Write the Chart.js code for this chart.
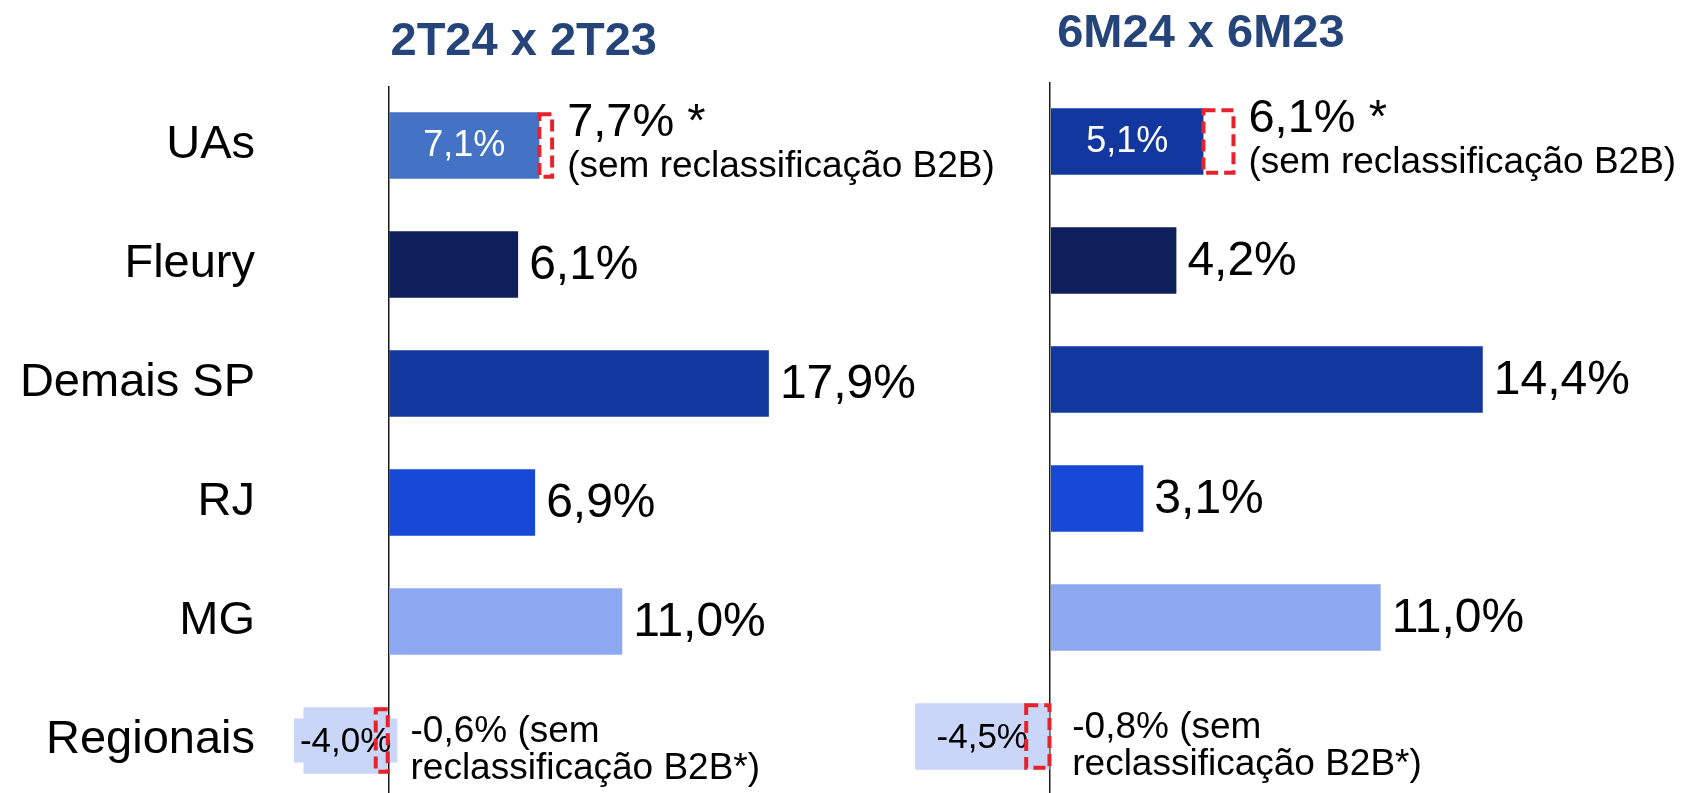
<!DOCTYPE html>
<html lang="pt-BR">
<head>
<meta charset="utf-8">
<title>Crescimento por marca</title>
<script src="https://cdn.jsdelivr.net/npm/chart.js@4.4.1/dist/chart.umd.min.js"></script>
<style>
    html, body {
        margin: 0;
        padding: 0;
        background: #ffffff;
        overflow: hidden;
        width: 1684px;
        height: 793px;
    }
    canvas {
        position: absolute;
        top: 0;
    }
    #quarter-chart { left: 0; }
    #half-chart { left: 850px; }
</style>
</head>
<body>
<canvas id="quarter-chart" width="1010" height="800"></canvas>
<canvas id="half-chart" width="834" height="800"></canvas>
<script>
// Chart data
const categories = ['UAs', 'Fleury', 'Demais SP', 'RJ', 'MG', 'Regionais'];

const quarterTitle = '2T24 x 2T23';
const quarterGrowth = [7.1, 6.1, 17.9, 6.9, 11.0, -4.0];
const quarterNoB2B = [7.7, null, null, null, null, -0.6];
const quarterColors = ['#4472C4', '#0F1F5B', '#12379F', '#1749D6', '#8CA8F0', '#C9D6F8'];

const halfTitle = '6M24 x 6M23';
const halfGrowth = [5.1, 4.2, 14.4, 3.1, 11.0, -4.5];
const halfNoB2B = [6.1, null, null, null, null, -0.8];
const halfColors = ['#12379F', '#0F1F5B', '#12379F', '#1749D6', '#8CA8F0', '#C9D6F8'];

const noteText = '(sem reclassificação B2B)';
const noteShort = ['(sem', 'reclassificação B2B*)'];

const FONT = "'Liberation Sans', Arial, sans-serif";
const TITLE_COLOR = '#254479';
const BOX_COLOR = '#E8222B';

// Format 7.1 -> "7,1%"
function pct(v) {
    return v.toFixed(1).replace('.', ',') + '%';
}

// Dashed box range: from reported value to value without reclassification
function boxRange(values, adjusted) {
    return adjusted.map((a, i) => {
        if (a === null) return null;
        return a >= 0 ? [values[i], a] : [a, 0];
    });
}

// Draws value labels, notes, dashed boxes and the title
const annotatePlugin = {
    id: 'annotate',
    afterDatasetsDraw(chart, args, opts) {
        const ctx = chart.ctx;
        const xScale = chart.scales.x;
        const zero = xScale.getPixelForValue(0);
        const bars = chart.getDatasetMeta(0).data;
        const boxes = chart.getDatasetMeta(1).data;
        const values = chart.data.datasets[0].data;
        const boxData = chart.data.datasets[1].data;
        const colors = chart.data.datasets[0].backgroundColor;
        const adjusted = opts.adjusted;

        ctx.save();
        ctx.fillStyle = '#000';

        bars.forEach((bar, i) => {
            const v = values[i];
            const a = adjusted[i];
            const y = bar.y;

            if (a === null) {
                ctx.font = '48px ' + FONT;
                ctx.textAlign = 'left';
                ctx.textBaseline = 'middle';
                ctx.fillStyle = '#000';
                ctx.fillText(pct(v), bar.x + 11, y + 1);
            } else if (v >= 0) {
                // value inside the bar
                ctx.font = '36px ' + FONT;
                ctx.textAlign = 'center';
                ctx.textBaseline = 'middle';
                ctx.fillStyle = '#fff';
                ctx.fillText(pct(v), (bar.base + bar.x) / 2, y + 1);

                const ax = xScale.getPixelForValue(a) + 15;
                ctx.fillStyle = '#000';
                ctx.textAlign = 'left';
                ctx.textBaseline = 'alphabetic';
                ctx.font = '47px ' + FONT;
                ctx.fillText(pct(a) + ' *', ax, y - 10);
                ctx.font = '37px ' + FONT;
                ctx.fillText(noteText, ax, y + 31);
            } else {
                // negative bar: label with its own background
                const cx = (bar.base + bar.x) / 2;
                ctx.font = '35px ' + FONT;
                const w = ctx.measureText(pct(v)).width + 12;
                ctx.fillStyle = colors[i];
                ctx.fillRect(cx - w / 2, y - 22, w, 44);
                ctx.fillStyle = '#000';
                ctx.textAlign = 'center';
                ctx.textBaseline = 'middle';
                ctx.fillText(pct(v), cx, y + 2);

                ctx.textAlign = 'left';
                ctx.textBaseline = 'alphabetic';
                ctx.font = '37px ' + FONT;
                ctx.fillText(pct(a) + ' ' + noteShort[0], zero + 22, y + 1);
                ctx.fillText(noteShort[1], zero + 22, y + 38);
            }
        });

        // dashed red boxes
        ctx.setLineDash([12, 6]);
        ctx.lineWidth = 4;
        ctx.strokeStyle = BOX_COLOR;
        boxes.forEach((b, i) => {
            if (boxData[i] === null) return;
            const left = Math.min(b.x, b.base);
            const width = Math.abs(b.x - b.base);
            ctx.strokeRect(left, b.y - b.height / 2 + 2, width, b.height - 4);
        });
        ctx.setLineDash([]);

        // title
        ctx.font = 'bold 47px ' + FONT;
        ctx.fillStyle = TITLE_COLOR;
        ctx.textAlign = 'left';
        ctx.textBaseline = 'alphabetic';
        ctx.fillText(opts.title, zero + opts.titleDx, opts.titleY);

        ctx.restore();
    }
};

function buildChart(canvasId, values, adjusted, colors, title, cfg) {
    const ctx = document.getElementById(canvasId).getContext('2d');
    return new Chart(ctx, {
        type: 'bar',
        data: {
            labels: categories,
            datasets: [{
                data: values,
                backgroundColor: colors,
                borderWidth: 0,
                barPercentage: 0.56,
                categoryPercentage: 1.0,
                grouped: false
            }, {
                data: boxRange(values, adjusted),
                backgroundColor: 'rgba(0,0,0,0)',
                borderWidth: 0,
                barPercentage: 0.56,
                categoryPercentage: 1.0,
                grouped: false
            }]
        },
        options: {
            indexAxis: 'y',
            responsive: false,
            animation: false,
            layout: {
                padding: cfg.padding
            },
            plugins: {
                legend: { display: false },
                tooltip: { enabled: false },
                annotate: {
                    adjusted: adjusted,
                    title: title,
                    titleDx: cfg.titleDx,
                    titleY: cfg.titleY
                }
            },
            scales: {
                x: {
                    min: cfg.min,
                    max: cfg.max,
                    ticks: { display: false, stepSize: 2 },
                    border: { display: false },
                    grid: {
                        drawTicks: false,
                        lineWidth: 1.5,
                        color: (c) => (c.tick && c.tick.value === 0 ? '#1a1a1a' : 'rgba(0,0,0,0)')
                    },
                    afterFit: (s) => {
                        s.height = 0;
                        s.paddingLeft = 0;
                        s.paddingRight = 0;
                    }
                },
                y: {
                    display: cfg.showLabels,
                    grid: { display: false, drawTicks: false },
                    border: { display: false },
                    ticks: {
                        color: '#000',
                        padding: 6,
                        font: { family: FONT, size: 47 }
                    },
                    afterFit: (s) => {
                        s.width = cfg.labelWidth;
                        s.paddingTop = 0;
                        s.paddingBottom = 0;
                    }
                }
            }
        },
        plugins: [annotatePlugin]
    });
}

// Left: quarter comparison
buildChart('quarter-chart', quarterGrowth, quarterNoB2B, quarterColors, quarterTitle, {
    min: -6,
    max: 26,
    showLabels: true,
    labelWidth: 261,
    padding: { top: 86, bottom: 0, left: 0, right: 69 },
    titleDx: 2,
    titleY: 55
});

// Right: half-year comparison
buildChart('half-chart', halfGrowth, halfNoB2B, halfColors, halfTitle, {
    min: -6,
    max: 20,
    showLabels: false,
    labelWidth: 0,
    padding: { top: 82, bottom: 4, left: 20, right: 33 },
    titleDx: 7,
    titleY: 47
});
</script>
</body>
</html>
